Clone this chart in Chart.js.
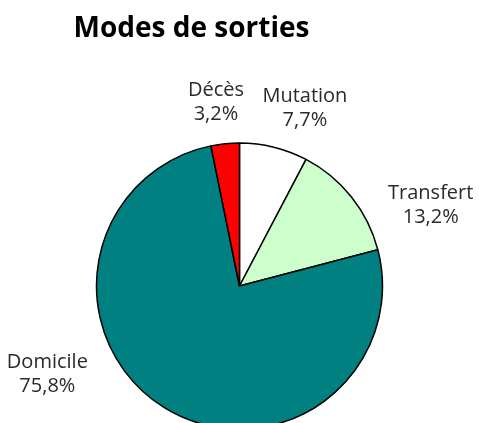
<!DOCTYPE html>
<html>
<head>
<meta charset="utf-8">
<script src="https://cdn.jsdelivr.net/npm/chart.js@4/dist/chart.umd.min.js"></script>
<style>
  html, body { margin: 0; padding: 0; background: #fff; overflow: hidden; }
  canvas { display: block; }
</style>
</head>
<body>
<canvas id="pieChart" width="479" height="423"></canvas>
<script>
// Données
const categories = ["Mutation", "Transfert", "Domicile", "Décès"];
const percents = [7.7, 13.2, 75.8, 3.2];
const percentLabels = ["7,7%", "13,2%", "75,8%", "3,2%"];
const title = "Modes de sorties";

// Couleurs des parts
const sliceColors = ["#ffffff", "#ccffcc", "#008080", "#ff0000"];

// Placement des étiquettes (décalage d'angle en degrés, distance au-delà du rayon)
const labelShift = [6.2, 15.3, 33.7, -1.5];
const labelGap = [47.5, 65, 68, 43];

const labelFont = '20px "Open Sans", sans-serif';

// Dessine le titre et les étiquettes
const labelsPlugin = {
  id: "outsideLabels",
  afterDraw(chart) {
    const ctx = chart.ctx;
    ctx.save();
    ctx.fillStyle = "#000";
    ctx.font = 'bold 28px "Open Sans", sans-serif';
    ctx.textAlign = "center";
    ctx.textBaseline = "alphabetic";
    ctx.fillText(title, 191.5, 37);

    ctx.font = labelFont;
    ctx.fillStyle = "#2a2a2a";
    const arcs = chart.getDatasetMeta(0).data;
    arcs.forEach((arc, i) => {
      const p = arc.getProps(["x", "y", "startAngle", "endAngle", "outerRadius"], true);
      const mid = (p.startAngle + p.endAngle) / 2 + (labelShift[i] * Math.PI) / 180;
      const d = p.outerRadius + labelGap[i];
      const cx = p.x + Math.cos(mid) * d;
      const cy = p.y + Math.sin(mid) * d;
      ctx.fillText(categories[i], cx, cy - 12 + 7);
      ctx.fillText(percentLabels[i], cx, cy + 12 + 7);
    });
    ctx.restore();
  },
};

const ctx = document.getElementById("pieChart").getContext("2d");
new Chart(ctx, {
  type: "pie",
  data: {
    labels: categories,
    datasets: [
      {
        data: percents,
        backgroundColor: sliceColors,
        borderColor: "#000",
        borderWidth: 1.5,
        radius: 143,
        clip: false,
      },
    ],
  },
  options: {
    responsive: false,
    animation: false,
    layout: { padding: { top: 149, bottom: 0, left: 0, right: 0 } },
    plugins: {
      legend: { display: false },
      tooltip: { enabled: false },
      title: { display: false },
    },
  },
  plugins: [labelsPlugin],
});
</script>
</body>
</html>
